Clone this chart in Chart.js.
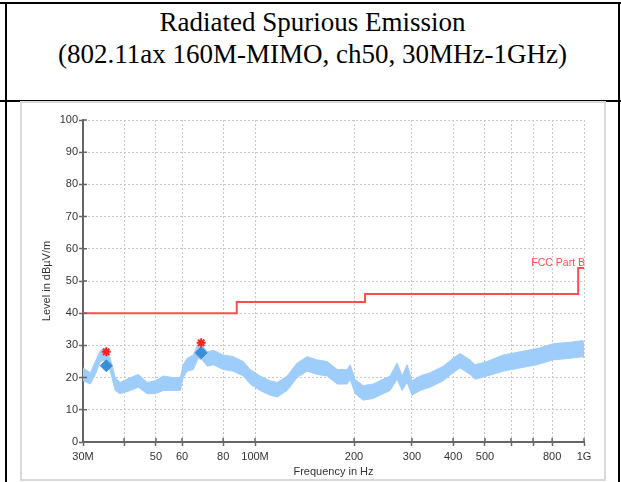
<!DOCTYPE html>
<html>
<head>
<meta charset="utf-8">
<script src="https://cdn.jsdelivr.net/npm/chart.js@4.4.1/dist/chart.umd.min.js"></script>
<style>
  html, body { margin: 0; padding: 0; background: #fff; }
  body { width: 621px; height: 482px; position: relative; overflow: hidden; }
  .line { position: absolute; background: #000; }
  #title {
    position: absolute; left: 7px; top: 6px; width: 611px;
    font-family: "Liberation Serif", "Times New Roman", serif;
    font-size: 27px; line-height: 32px; text-align: center; color: #000;
  }
  #frame {
    position: absolute; left: 20px; top: 101px; width: 582px; height: 376px;
    border: 2px solid #d9d9d9;
  }
  #chart { display: block; }
</style>
</head>
<body>
<div class="line" style="left:0;top:2px;width:621px;height:2px"></div>
<div class="line" style="left:5px;top:2px;width:2px;height:480px"></div>
<div class="line" style="left:618px;top:2px;width:2px;height:480px"></div>
<div class="line" style="left:0;top:100px;width:621px;height:2px"></div>
<div id="title">Radiated Spurious Emission<br>(802.11ax 160M-MIMO, ch50, 30MHz-1GHz)</div>
<div id="frame"><canvas id="chart" width="582" height="376"></canvas></div>
<script>
// measured trace (MHz), read as lower / upper edge of the noisy band (dBµV/m)
const traceFreq = [30, 31.6, 32.7, 33.9, 35.1, 36.3, 37.6, 38.9, 41.8, 44.2, 47.0, 49.8, 52.6, 56.4, 59.3,
  60.5, 62.2, 64.9, 67.2, 69.1, 71.6, 74.6, 80.1, 85.9, 92.1, 96.7, 103.7, 111.2, 116.8, 125.2,
  134.3, 144.0, 154.5, 165.7, 177.7, 190.6, 194.6, 201.5, 213.1, 228.5, 245.1, 257.4, 270.3, 280,
  289.9, 300.2, 317.5, 340.5, 373, 400, 420, 450.4, 466.4, 507.4, 567.4, 639.1, 719.6, 804.8, 906.5, 992.7, 1000];
const traceLow = [19, 18, 21, 25, 25.5, 22, 16, 15, 16, 17, 15, 15, 16, 16, 16,
  20, 22, 22.5, 26, 25.5, 23.5, 24, 22.5, 22, 20.5, 18, 16, 14.5, 14, 16,
  20, 22, 21, 20.5, 18, 18, 19.5, 15, 13, 13.5, 15, 16, 19.5, 16,
  18.5, 14.5, 16, 17, 19, 21.5, 23, 21, 19.5, 20.5, 22, 23, 24, 25.5, 26, 26.5, 26];
const traceHigh = [23, 21.5, 25, 28.5, 29, 26, 20, 18.5, 20, 21, 18.5, 19, 20.5, 20, 20,
  24, 26, 27, 30.5, 30, 28, 28.5, 27, 26.5, 25, 22.5, 20.5, 19, 18.5, 20.5,
  24.5, 26.5, 25.5, 25, 22.5, 22.5, 24, 19.5, 17.5, 18, 19.5, 20.5, 24.5, 20.5,
  24, 19, 20.5, 21.5, 23.5, 26, 27.5, 25.5, 24, 25, 27, 28, 29, 30.5, 31, 31.5, 30];

// final measurement points
const peakFreq = [35.3, 68.6];
const peakLevel = [28.0, 30.8];
const qpLevel = [23.7, 27.7];

// FCC Part B limit line
const limitFreq = [30, 88, 88, 216, 216, 960, 960, 1000];
const limitLevel = [40, 40, 43.5, 43.5, 46, 46, 54, 54];
const limitName = 'FCC Part B';

// axes
const xTicks = [30, 40, 50, 60, 80, 100, 200, 300, 400, 500, 600, 700, 800, 1000];
const xTickLabels = ['30M', '', '50', '60', '80', '100M', '200', '300', '400', '500', '', '', '800', '1G'];
const yMin = 0, yMax = 100, yStep = 5;

const toPts = (xs, ys) => xs.map((x, i) => ({ x: x, y: ys[i] }));

const axisColor = '#666';
const gridColor = '#c8c8c8';
const textColor = '#333';
const font = { family: "'Liberation Sans', Arial, sans-serif", size: 11 };

const extras = {
  id: 'extras',
  afterDraw(chart) {
    const ctx = chart.ctx;
    const xs = chart.scales.x, ys = chart.scales.y;
    const a = chart.chartArea;
    ctx.save();
    ctx.strokeStyle = axisColor;
    ctx.lineWidth = 1.5;
    ctx.beginPath();
    ys.ticks.forEach(t => {
      const py = ys.getPixelForValue(t.value);
      ctx.moveTo(a.left, py); ctx.lineTo(a.left + 4, py);
    });
    xs.ticks.forEach(t => {
      const px = xs.getPixelForValue(t.value);
      ctx.moveTo(px, a.bottom); ctx.lineTo(px, a.bottom - 4);
    });
    ctx.stroke();
    ctx.fillStyle = '#ff4d4d';
    ctx.font = "10.5px 'Liberation Sans', Arial, sans-serif";
    ctx.textAlign = 'right';
    ctx.textBaseline = 'alphabetic';
    ctx.fillText(limitName, xs.getPixelForValue(1000) + 1, ys.getPixelForValue(54) - 2);
    ctx.restore();
  }
};

new Chart(document.getElementById('chart'), {
  type: 'line',
  data: {
    datasets: [
      {
        label: 'Peak',
        data: toPts(peakFreq, peakLevel),
        showLine: false,
        pointStyle: 'star',
        pointRadius: 4.5,
        borderColor: '#ff2020',
        backgroundColor: '#ff2020',
        pointBorderWidth: 2
      },
      {
        label: 'QP',
        data: toPts(peakFreq, qpLevel),
        showLine: false,
        pointStyle: 'rectRot',
        pointRadius: 6,
        borderColor: '#3a8fd4',
        backgroundColor: '#3a8fd4',
        pointBorderWidth: 1
      },
      {
        label: limitName,
        data: toPts(limitFreq, limitLevel),
        borderColor: '#ff4d4d',
        borderWidth: 2,
        pointRadius: 0,
        tension: 0
      },
      {
        label: 'upper',
        data: toPts(traceFreq, traceHigh),
        borderColor: '#9fcdfb',
        backgroundColor: '#9fcdfb',
        borderWidth: 1,
        pointRadius: 0,
        fill: '+1',
        tension: 0
      },
      {
        label: 'lower',
        data: toPts(traceFreq, traceLow),
        borderColor: '#9fcdfb',
        borderWidth: 1,
        pointRadius: 0,
        fill: false,
        tension: 0
      }
    ]
  },
  options: {
    responsive: false,
    animation: false,
    layout: { padding: { top: 17, right: 20, left: 0, bottom: 0 } },
    plugins: { legend: { display: false }, tooltip: { enabled: false } },
    scales: {
      x: {
        type: 'logarithmic',
        min: 30,
        max: 1000,
        afterBuildTicks: s => { s.ticks = xTicks.map(v => ({ value: v })); },
        afterFit: s => { s.height = 37; },
        ticks: {
          autoSkip: false,
          maxRotation: 0,
          padding: 4,
          color: textColor,
          font: font,
          callback: v => xTickLabels[xTicks.indexOf(v)] ?? ''
        },
        grid: { color: gridColor, lineWidth: 1, tickLength: 4, tickColor: axisColor, tickWidth: 1.5 },
        border: { display: true, color: axisColor, width: 2, dash: [2, 2] },
        title: { display: true, text: 'Frequency in Hz', color: textColor, font: font, padding: { top: 0, bottom: 0 } }
      },
      y: {
        min: yMin,
        max: yMax,
        afterFit: s => { s.width = 61; },
        ticks: {
          stepSize: yStep,
          padding: 1,
          color: textColor,
          font: font,
          callback: v => (v % 10 === 0 ? String(v) : '')
        },
        grid: { color: gridColor, lineWidth: 1, tickLength: 4, tickColor: axisColor, tickWidth: 1.5 },
        border: { display: true, color: axisColor, width: 2, dash: [2, 2] },
        title: { display: true, text: 'Level in dBµV/m', color: textColor, font: font, padding: { top: 18, bottom: 0 } }
      }
    }
  },
  plugins: [extras]
});
</script>
</body>
</html>
